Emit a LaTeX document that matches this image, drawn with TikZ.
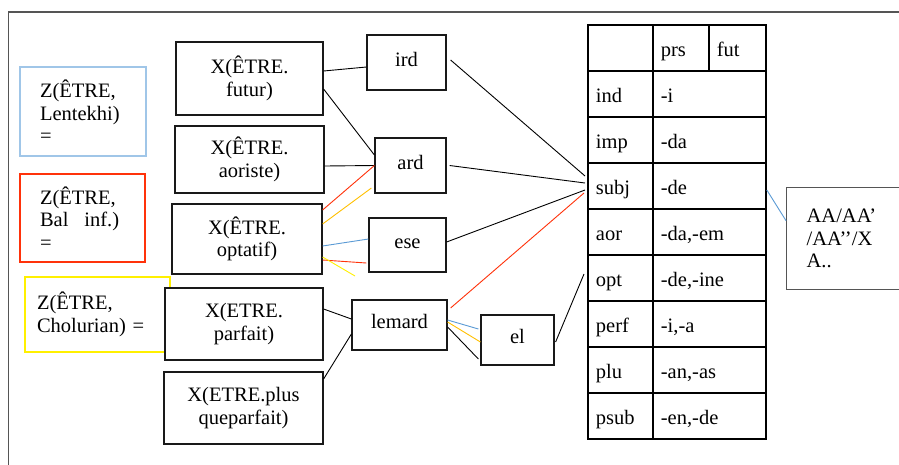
\documentclass[tikz,border=0pt]{standalone}
\usepackage{fontspec}
\setmainfont{Liberation Serif}
\usepackage{tikz}
\usetikzlibrary{positioning}
\definecolor{cframe}{RGB}{85,85,85}
\definecolor{lblue}{RGB}{160,198,232}
\definecolor{cblue}{RGB}{91,155,213}
\definecolor{cred}{RGB}{255,50,10}
\definecolor{cgold}{RGB}{255,192,0}
\definecolor{cyel}{RGB}{255,240,0}
\newcommand{\labfont}{\rmfamily\fontsize{20.5}{22.5}\selectfont}
\tikzset{
  zbox/.style={rectangle,draw,line width=1.1pt,inner xsep=20pt,align=left,
    font=\labfont},
  xbox/.style={rectangle,draw=black!90,line width=1.2pt,fill=white,
    align=center,font=\labfont},
  suffbox/.style={rectangle,draw=black!90,line width=1.2pt,fill=white,
    text height=15pt,text depth=8pt,font=\labfont},
  % cells of the ending table
  tcell/.style={rectangle,draw,line width=1.8pt,minimum height=46pt,
    inner xsep=8pt,inner ysep=0pt,anchor=west,align=left,
    text height=18pt,text depth=2pt,font=\labfont},
  link/.style={line width=0.9pt},
}

\begin{document}
\begin{tikzpicture}[x=1pt,y=-1pt]
  \clip (0,0) rectangle (899,464);
  \fill[white] (0,0) rectangle (899,464);
  \draw[cframe,line width=1.3pt] (8.5,12) rectangle (930,490);

  % dialect keys
  \node[zbox,draw=lblue,minimum width=126pt,minimum height=89pt,text width=86pt]
    (zlent) at (83,111.5) {Z(ÊTRE,\\Lentekhi)\\=};
  \node[zbox,draw=cred,minimum width=125pt,minimum height=88pt,text width=85pt]
    (zbal) at (82.5,218) {Z(ÊTRE,\\\mbox{Bal\hspace{16pt}inf.)}\\=};
  \node[zbox,draw=cyel,inner xsep=12pt,minimum width=145pt,minimum height=75pt,
    text width=121pt] (zchol) at (97.5,314.5) {Z(ÊTRE,\\Cholurian) =};

  % tense forms
  \node[xbox,minimum width=147pt,minimum height=73pt] (xfut) at (249.5,78.5)
    {X(ÊTRE.\\futur)};
  \node[xbox,minimum width=149pt,minimum height=67pt] (xaor) at (249.5,159.5)
    {X(ÊTRE.\\aoriste)};
  \node[xbox,minimum width=150pt,minimum height=70pt] (xopt) at (247,239)
    {X(ÊTRE.\\optatif)};
  \node[xbox,minimum width=158pt,minimum height=72pt] (xparf) at (244,324)
    {X(ETRE.\\parfait)};
  \node[xbox,minimum width=159pt,minimum height=72pt] (xpqp) at (243.5,408)
    {X(ETRE.plus\\queparfait)};

  % stems
  \node[suffbox,minimum width=79pt,minimum height=55pt] (ird) at (406.5,62.5) {ird};
  \node[suffbox,minimum width=71pt,minimum height=55pt] (ard) at (410.5,165.5) {ard};
  \node[suffbox,minimum width=77pt,minimum height=54pt] (ese) at (407.5,245) {ese};
  \node[suffbox,minimum width=95pt,minimum height=50pt] (lemard) at (399.5,325) {lemard};
  \node[suffbox,minimum width=73pt,minimum height=50pt] (el) at (517.5,340) {el};

  % ending table
  \node[tcell,text width=49pt] (head) at (587,48) {};
  \node[tcell,text width=40pt] (prs) at (652,48) {prs};
  \node[tcell,text width=41pt] (fut) at (708,48) {fut};
  \foreach \lab/\suf [count=\i] in {ind/-i,imp/-da,subj/-de,aor/{-da,-em},
      opt/{-de,-ine},perf/{-i,-a},plu/{-an,-as},psub/{-en,-de}} {
    \node[tcell,text width=49pt] (\lab) at (587,{48+46*\i}) {\lab};
    \node[tcell,text width=97pt] (s\lab) at (652,{48+46*\i}) {\suf};
  }

  \node[rectangle,draw=cframe,line width=1.3pt,anchor=north west,
    minimum width=140pt,minimum height=102pt,inner xsep=20pt,text width=100pt,
    align=left,font=\labfont] (aa) at (786,187) {AA/AA’\\/AA’’/X\\A..};

  % links
  \coordinate (optend) at (355,276);
  \draw[link] ([yshift=7.5pt]xfut.east) -- ([yshift=-4.5pt]ird.west);
  \draw[link] ([yshift=-10.5pt]xfut.east) -- ([yshift=10.5pt]ard.west);
  \draw[link] ([yshift=-6.5pt]xaor.east) -- (ard.west);
  \draw[link,cred] ([yshift=29pt]xopt.east) -- (ard.west);
  \draw[link,cgold] ([yshift=15pt]xopt.east) -- ([xshift=-3pt,yshift=-22.5pt]ard.west);
  \draw[link,cblue] ([yshift=-7pt]xopt.east) -- ([yshift=6pt]ese.west);
  \draw[link,cred] ([yshift=-21pt]xopt.east) -- ([xshift=-2pt,yshift=-18pt]ese.west);
  \draw[link,cyel] ([yshift=-18pt]xopt.east) -- (optend);
  \draw[link] ([yshift=15pt]xparf.east) -- ([yshift=6pt]lemard.west);
  \draw[link] ([yshift=29pt]xpqp.east) -- ([yshift=-9pt]lemard.west);

  \draw[link] ([xshift=4pt,yshift=2.5pt]ird.east) -- ([xshift=-2pt,yshift=10pt]subj.west);
  \draw[link] ([xshift=3pt]ard.east) -- ([xshift=-2pt,yshift=3pt]subj.west);
  \draw[link] ([yshift=3pt]ese.east) -- ([xshift=-2pt,yshift=-4pt]subj.west);
  \draw[link,cred] ([xshift=3pt,yshift=17pt]lemard.east) -- ([xshift=-3pt,yshift=-7pt]subj.west);
  \draw[link,cblue] ([yshift=5pt]lemard.east) -- ([xshift=-2pt,yshift=11pt]el.west);
  \draw[link,cgold] ([yshift=3pt]lemard.east) -- ([yshift=-2pt]el.west);
  \draw[link] ([yshift=-2pt]lemard.east) -- ([xshift=-2pt,yshift=-19pt]el.west);
  \draw[link] ([xshift=1pt,yshift=-2pt]el.east) -- ([xshift=-3pt,yshift=4pt]opt.west);
  \draw[link,cblue] ([yshift=-4pt]ssubj.east) -- ([yshift=18pt]aa.west);
\end{tikzpicture}
\end{document}
